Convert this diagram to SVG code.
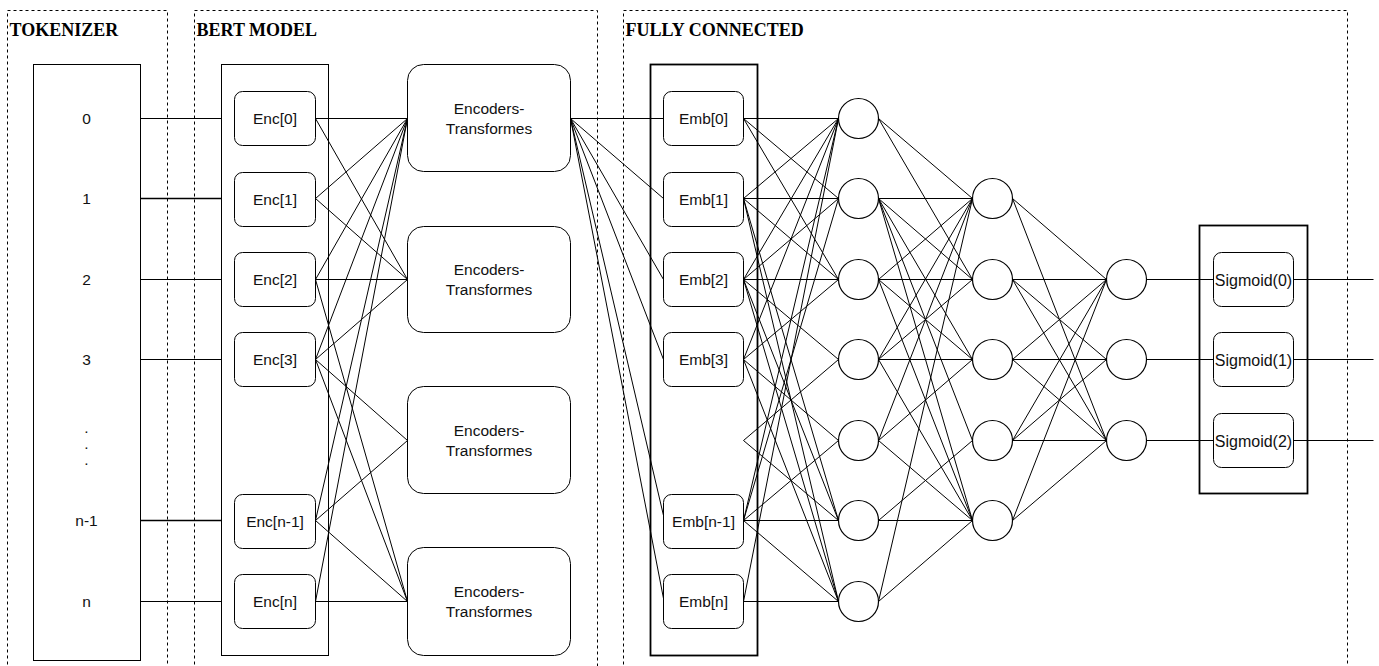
<svg xmlns="http://www.w3.org/2000/svg" width="1379" height="666" viewBox="0 0 1379 666">
  <style>
    .zone { fill: none; stroke: #000; stroke-width: 1; stroke-dasharray: 3 3; }
    .title { font-family: "Liberation Serif", "Times New Roman", serif; font-weight: bold; font-size: 18px; fill: #000; }
    .frame { fill: #fff; stroke: #000; stroke-width: 1; }
    .frame2 { fill: none; stroke: #000; stroke-width: 1.8; }
    .node { fill: #fff; stroke: #000; stroke-width: 1; }
    .neuron { fill: #fff; stroke: #000; stroke-width: 1.2; }
    .lbl { font-family: "Liberation Sans", Arial, sans-serif; font-size: 15.5px; fill: #111; text-anchor: middle; }
    .sig { font-family: "Liberation Sans", Arial, sans-serif; font-size: 16px; fill: #111; text-anchor: middle; }
    .edges line { stroke: #000; stroke-width: 1; }
  </style>

  <!-- half-pixel offset keeps 1px strokes crisp -->
  <g transform="translate(0.5 0.5)">

  <!-- section frames -->
  <g id="zone-tokenizer">
    <rect class="zone" x="7" y="10" width="160" height="680"/>
    <text class="title" x="9" y="35">TOKENIZER</text>
  </g>
  <g id="zone-bert">
    <rect class="zone" x="194" y="10" width="403" height="680"/>
    <text class="title" x="196" y="35">BERT MODEL</text>
  </g>
  <g id="zone-fc">
    <rect class="zone" x="623" y="10" width="724" height="680"/>
    <text class="title" x="625" y="35">FULLY CONNECTED</text>
  </g>

  <!-- container boxes -->
  <g id="tokenizer">
    <rect class="frame" x="33" y="64" width="107" height="596"/>
    <text class="lbl" x="86" y="123">0</text>
    <text class="lbl" x="86" y="203">1</text>
    <text class="lbl" x="86" y="284">2</text>
    <text class="lbl" x="86" y="364">3</text>
    <text class="lbl" x="86" y="432">.</text>
    <text class="lbl" x="86" y="448">.</text>
    <text class="lbl" x="86" y="464">.</text>
    <text class="lbl" x="86" y="525">n-1</text>
    <text class="lbl" x="86" y="606">n</text>
  </g>
  <g id="bert-stack">
    <rect class="frame" x="221" y="64" width="107" height="591"/>
  </g>
  <g id="emb-stack">
    <rect class="frame2" x="650" y="64" width="107" height="591"/>
  </g>
  <g id="sigmoid-stack">
    <rect class="frame2" x="1199" y="225" width="108" height="268"/>
  </g>

  <!-- connectors -->
  <g id="connectors" class="edges">
    <!-- tokens to encoder stack -->
    <line x1="140" y1="118" x2="221" y2="118"/>
    <line x1="140" y1="198" x2="221" y2="198" style="stroke-width:1.5"/>
    <line x1="140" y1="279" x2="221" y2="279"/>
    <line x1="140" y1="359" x2="221" y2="359"/>
    <line x1="140" y1="520" x2="221" y2="520" style="stroke-width:1.5"/>
    <line x1="140" y1="601" x2="221" y2="601"/>

    <!-- Enc to Encoders-Transformes -->
    <line x1="315" y1="118" x2="407" y2="118"/>
    <line x1="315" y1="118" x2="407" y2="279"/>
    <line x1="315" y1="198" x2="407" y2="118"/>
    <line x1="315" y1="198" x2="407" y2="279"/>
    <line x1="315" y1="279" x2="407" y2="118"/>
    <line x1="315" y1="279" x2="407" y2="279"/>
    <line x1="315" y1="279" x2="407" y2="601"/>
    <line x1="315" y1="359" x2="407" y2="118"/>
    <line x1="315" y1="359" x2="407" y2="279"/>
    <line x1="315" y1="359" x2="407" y2="440"/>
    <line x1="315" y1="359" x2="407" y2="601"/>
    <line x1="315" y1="520" x2="407" y2="118"/>
    <line x1="315" y1="520" x2="407" y2="440"/>
    <line x1="315" y1="520" x2="407" y2="601"/>
    <line x1="315" y1="601" x2="407" y2="118"/>
    <line x1="315" y1="601" x2="407" y2="601"/>

    <!-- Encoders-Transformes to Emb -->
    <line x1="570" y1="118" x2="663" y2="118"/>
    <line x1="570" y1="118" x2="663" y2="198"/>
    <line x1="570" y1="118" x2="663" y2="279"/>
    <line x1="570" y1="118" x2="663" y2="359"/>
    <line x1="570" y1="118" x2="663" y2="515"/>
    <line x1="570" y1="118" x2="663" y2="598"/>

    <!-- Emb to hidden layer 1 -->
    <line x1="743" y1="118" x2="838" y2="118"/>
    <line x1="743" y1="118" x2="838" y2="198"/>
    <line x1="743" y1="118" x2="838" y2="279"/>
    <line x1="743" y1="198" x2="838" y2="118"/>
    <line x1="743" y1="198" x2="838" y2="198"/>
    <line x1="743" y1="198" x2="838" y2="279"/>
    <line x1="743" y1="198" x2="838" y2="520"/>
    <line x1="743" y1="198" x2="838" y2="601"/>
    <line x1="743" y1="279" x2="838" y2="118"/>
    <line x1="743" y1="279" x2="838" y2="198"/>
    <line x1="743" y1="279" x2="838" y2="279"/>
    <line x1="743" y1="279" x2="838" y2="359"/>
    <line x1="743" y1="279" x2="838" y2="520"/>
    <line x1="743" y1="279" x2="838" y2="601"/>
    <line x1="743" y1="359" x2="838" y2="118"/>
    <line x1="743" y1="359" x2="838" y2="279"/>
    <line x1="743" y1="359" x2="838" y2="440"/>
    <line x1="743" y1="359" x2="838" y2="601"/>
    <line x1="743" y1="440" x2="838" y2="359"/>
    <line x1="743" y1="440" x2="838" y2="520"/>
    <line x1="743" y1="520" x2="838" y2="118"/>
    <line x1="743" y1="520" x2="838" y2="198"/>
    <line x1="743" y1="520" x2="838" y2="440"/>
    <line x1="743" y1="520" x2="838" y2="520"/>
    <line x1="743" y1="520" x2="838" y2="601"/>
    <line x1="743" y1="601" x2="838" y2="118"/>
    <line x1="743" y1="601" x2="838" y2="601"/>

    <!-- hidden layer 1 to hidden layer 2 -->
    <line x1="878" y1="118" x2="972" y2="198"/>
    <line x1="878" y1="118" x2="972" y2="279"/>
    <line x1="878" y1="198" x2="972" y2="198"/>
    <line x1="878" y1="198" x2="972" y2="279"/>
    <line x1="878" y1="198" x2="972" y2="359"/>
    <line x1="878" y1="198" x2="972" y2="440"/>
    <line x1="878" y1="198" x2="972" y2="520"/>
    <line x1="878" y1="279" x2="972" y2="198"/>
    <line x1="878" y1="279" x2="972" y2="279"/>
    <line x1="878" y1="279" x2="972" y2="359"/>
    <line x1="878" y1="279" x2="972" y2="520"/>
    <line x1="878" y1="359" x2="972" y2="198"/>
    <line x1="878" y1="359" x2="972" y2="279"/>
    <line x1="878" y1="359" x2="972" y2="359"/>
    <line x1="878" y1="359" x2="972" y2="520"/>
    <line x1="878" y1="440" x2="972" y2="198"/>
    <line x1="878" y1="440" x2="972" y2="359"/>
    <line x1="878" y1="440" x2="972" y2="520"/>
    <line x1="878" y1="520" x2="972" y2="440"/>
    <line x1="878" y1="520" x2="972" y2="520"/>
    <line x1="878" y1="601" x2="972" y2="198"/>
    <line x1="878" y1="601" x2="972" y2="520"/>

    <!-- hidden layer 2 to hidden layer 3 -->
    <line x1="1012" y1="198" x2="1106" y2="279"/>
    <line x1="1012" y1="198" x2="1106" y2="440"/>
    <line x1="1012" y1="279" x2="1106" y2="279"/>
    <line x1="1012" y1="279" x2="1106" y2="359"/>
    <line x1="1012" y1="279" x2="1106" y2="440"/>
    <line x1="1012" y1="359" x2="1106" y2="279"/>
    <line x1="1012" y1="359" x2="1106" y2="359"/>
    <line x1="1012" y1="359" x2="1106" y2="440"/>
    <line x1="1012" y1="440" x2="1106" y2="279"/>
    <line x1="1012" y1="440" x2="1106" y2="359"/>
    <line x1="1012" y1="440" x2="1106" y2="440"/>
    <line x1="1012" y1="520" x2="1106" y2="279"/>
    <line x1="1012" y1="520" x2="1106" y2="440"/>

    <!-- layer 3 to sigmoid and outputs -->
    <line x1="1146" y1="279" x2="1213" y2="279"/>
    <line x1="1146" y1="359" x2="1213" y2="359"/>
    <line x1="1146" y1="440" x2="1213" y2="440"/>
    <line x1="1293" y1="279" x2="1373" y2="279"/>
    <line x1="1293" y1="359" x2="1373" y2="359"/>
    <line x1="1293" y1="440" x2="1373" y2="440"/>
  </g>

  <!-- encoder inputs -->
  <g id="enc-0"><rect class="node" x="234" y="91" width="81" height="54" rx="8"/><text class="lbl" x="274.5" y="123.5">Enc[0]</text></g>
  <g id="enc-1"><rect class="node" x="234" y="172" width="81" height="54" rx="8"/><text class="lbl" x="274.5" y="204">Enc[1]</text></g>
  <g id="enc-2"><rect class="node" x="234" y="252" width="81" height="54" rx="8"/><text class="lbl" x="274.5" y="284.5">Enc[2]</text></g>
  <g id="enc-3"><rect class="node" x="234" y="332" width="81" height="54" rx="8"/><text class="lbl" x="274.5" y="364.5">Enc[3]</text></g>
  <g id="enc-n1"><rect class="node" x="234" y="494" width="81" height="54" rx="8"/><text class="lbl" x="274.5" y="526">Enc[n-1]</text></g>
  <g id="enc-n"><rect class="node" x="234" y="574" width="81" height="54" rx="8"/><text class="lbl" x="274.5" y="606.5">Enc[n]</text></g>

  <!-- transformer encoders -->
  <g id="et-0"><rect class="node" x="407" y="64" width="163" height="107" rx="16"/><text class="lbl" x="488.5" y="113">Encoders-</text><text class="lbl" x="488.5" y="133">Transformes</text></g>
  <g id="et-1"><rect class="node" x="407" y="226" width="163" height="106" rx="16"/><text class="lbl" x="488.5" y="274">Encoders-</text><text class="lbl" x="488.5" y="294">Transformes</text></g>
  <g id="et-2"><rect class="node" x="407" y="386" width="163" height="107" rx="16"/><text class="lbl" x="488.5" y="435">Encoders-</text><text class="lbl" x="488.5" y="455">Transformes</text></g>
  <g id="et-3"><rect class="node" x="407" y="547" width="163" height="108" rx="16"/><text class="lbl" x="488.5" y="596">Encoders-</text><text class="lbl" x="488.5" y="616">Transformes</text></g>

  <!-- embeddings -->
  <g id="emb-0"><rect class="node" x="663" y="91" width="80" height="54" rx="8"/><text class="lbl" x="703" y="123.5">Emb[0]</text></g>
  <g id="emb-1"><rect class="node" x="663" y="172" width="80" height="54" rx="8"/><text class="lbl" x="703" y="204">Emb[1]</text></g>
  <g id="emb-2"><rect class="node" x="663" y="252" width="80" height="54" rx="8"/><text class="lbl" x="703" y="284.5">Emb[2]</text></g>
  <g id="emb-3"><rect class="node" x="663" y="332" width="80" height="54" rx="8"/><text class="lbl" x="703" y="364.5">Emb[3]</text></g>
  <g id="emb-n1"><rect class="node" x="663" y="494" width="80" height="54" rx="8"/><text class="lbl" x="703" y="526">Emb[n-1]</text></g>
  <g id="emb-n"><rect class="node" x="663" y="574" width="80" height="54" rx="8"/><text class="lbl" x="703" y="606.5">Emb[n]</text></g>

  <!-- hidden layer 1 -->
  <g id="h1-0"><circle class="neuron" cx="858" cy="118" r="20"/></g>
  <g id="h1-1"><circle class="neuron" cx="858" cy="198" r="20"/></g>
  <g id="h1-2"><circle class="neuron" cx="858" cy="279" r="20"/></g>
  <g id="h1-3"><circle class="neuron" cx="858" cy="359" r="20"/></g>
  <g id="h1-4"><circle class="neuron" cx="858" cy="440" r="20"/></g>
  <g id="h1-5"><circle class="neuron" cx="858" cy="520" r="20"/></g>
  <g id="h1-6"><circle class="neuron" cx="858" cy="601" r="20"/></g>

  <!-- hidden layer 2 -->
  <g id="h2-0"><circle class="neuron" cx="992" cy="198" r="20"/></g>
  <g id="h2-1"><circle class="neuron" cx="992" cy="279" r="20"/></g>
  <g id="h2-2"><circle class="neuron" cx="992" cy="359" r="20"/></g>
  <g id="h2-3"><circle class="neuron" cx="992" cy="440" r="20"/></g>
  <g id="h2-4"><circle class="neuron" cx="992" cy="520" r="20"/></g>

  <!-- hidden layer 3 -->
  <g id="h3-0"><circle class="neuron" cx="1126" cy="279" r="20"/></g>
  <g id="h3-1"><circle class="neuron" cx="1126" cy="359" r="20"/></g>
  <g id="h3-2"><circle class="neuron" cx="1126" cy="440" r="20"/></g>

  <!-- sigmoid outputs -->
  <g id="sig-0"><rect class="node" x="1213" y="252" width="80" height="54" rx="8"/><text class="sig" x="1253" y="285">Sigmoid(0)</text></g>
  <g id="sig-1"><rect class="node" x="1213" y="332" width="80" height="54" rx="8"/><text class="sig" x="1253" y="365">Sigmoid(1)</text></g>
  <g id="sig-2"><rect class="node" x="1213" y="413" width="80" height="54" rx="8"/><text class="sig" x="1253" y="446">Sigmoid(2)</text></g>

  </g>
</svg>
